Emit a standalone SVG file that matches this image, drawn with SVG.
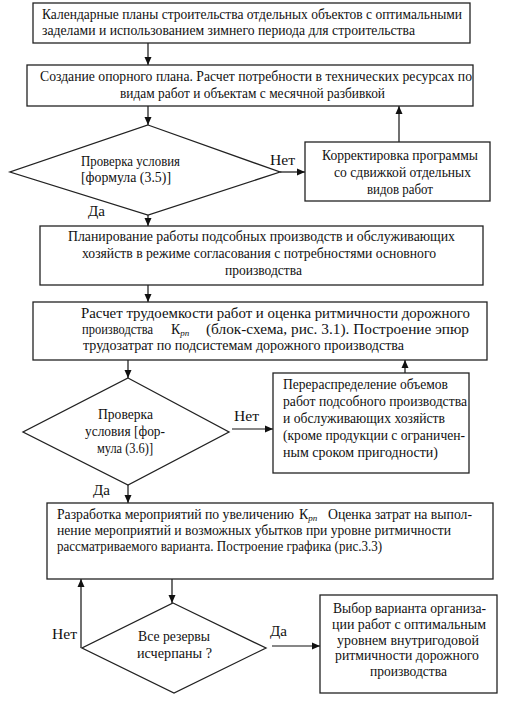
<svg xmlns="http://www.w3.org/2000/svg" width="509" height="703" viewBox="0 0 509 703" font-family="'Liberation Serif', 'Times New Roman', 'DejaVu Serif', serif">
<defs>
<marker id="ah" markerWidth="8" markerHeight="8" refX="8" refY="4" orient="auto" markerUnits="userSpaceOnUse">
<path d="M0,0.5 L8,4 L0,7.5 Z" fill="#111"/>
</marker>
</defs>
<style>
.box{fill:#fff;stroke:#222;stroke-width:1.3}
.t{font-size:14px;fill:#111}
.ln{stroke:#111;stroke-width:1.2;fill:none}
.sub{font-size:9px;font-style:italic}
</style>
<rect width="509" height="703" fill="#fff"/>
<g id="connectors">
<line class="ln" x1="148" y1="43" x2="148" y2="65" marker-end="url(#ah)"/>
<line class="ln" x1="148" y1="106" x2="148" y2="125" marker-end="url(#ah)"/>
<line class="ln" x1="280" y1="172" x2="305" y2="172" marker-end="url(#ah)"/>
<line class="ln" x1="399" y1="142" x2="399" y2="106" marker-end="url(#ah)"/>
<line class="ln" x1="148" y1="215" x2="148" y2="226" marker-end="url(#ah)"/>
<line class="ln" x1="148" y1="285" x2="148" y2="302" marker-end="url(#ah)"/>
<line class="ln" x1="128" y1="360" x2="128" y2="378" marker-end="url(#ah)"/>
<line class="ln" x1="232" y1="429" x2="273" y2="429" marker-end="url(#ah)"/>
<line class="ln" x1="405" y1="373" x2="405" y2="360" marker-end="url(#ah)"/>
<line class="ln" x1="128" y1="485" x2="128" y2="503" marker-end="url(#ah)"/>
<line class="ln" x1="172" y1="579" x2="172" y2="603" marker-end="url(#ah)"/>
<line class="ln" x1="81" y1="648" x2="81" y2="579" marker-end="url(#ah)"/>
<line class="ln" x1="272" y1="646" x2="320" y2="646" marker-end="url(#ah)"/>
<text class="t" x="270" y="165" textLength="25" lengthAdjust="spacingAndGlyphs">Нет</text>
<text class="t" x="88" y="216" textLength="17" lengthAdjust="spacingAndGlyphs">Да</text>
<text class="t" x="234" y="421" textLength="25" lengthAdjust="spacingAndGlyphs">Нет</text>
<text class="t" x="93" y="495" textLength="17" lengthAdjust="spacingAndGlyphs">Да</text>
<text class="t" x="52" y="639" textLength="25" lengthAdjust="spacingAndGlyphs">Нет</text>
<text class="t" x="270" y="636" textLength="17" lengthAdjust="spacingAndGlyphs">Да</text>
</g>
<g id="n1">
<rect class="box" x="33" y="3" width="437" height="40"/>
<text class="t" x="42" y="19" textLength="420" lengthAdjust="spacingAndGlyphs">Календарные планы строительства отдельных объектов с оптимальными</text>
<text class="t" x="42" y="35" textLength="373" lengthAdjust="spacingAndGlyphs">заделами и использованием зимнего периода для строительства</text>
</g>
<g id="n2">
<rect class="box" x="27" y="65" width="446" height="41"/>
<text class="t" x="40" y="81" textLength="432" lengthAdjust="spacingAndGlyphs">Создание опорного плана. Расчет потребности в технических ресурсах по</text>
<text class="t" x="120" y="98" textLength="265" lengthAdjust="spacingAndGlyphs">видам работ и объектам с месячной разбивкой</text>
</g>
<g id="d1">
<polygon class="box" points="148,125 280,172 148,215 10,172"/>
<text class="t" x="81" y="166" textLength="99" lengthAdjust="spacingAndGlyphs">Проверка условия</text>
<text class="t" x="81" y="182" textLength="90" lengthAdjust="spacingAndGlyphs">[формула  (3.5)]</text>
</g>
<g id="n3">
<rect class="box" x="305" y="142" width="185" height="59"/>
<text class="t" x="322" y="160" textLength="156" lengthAdjust="spacingAndGlyphs">Корректировка программы</text>
<text class="t" x="334" y="177" textLength="137" lengthAdjust="spacingAndGlyphs">со сдвижкой отдельных</text>
<text class="t" x="367" y="194" textLength="66" lengthAdjust="spacingAndGlyphs">видов работ</text>
</g>
<g id="n4">
<rect class="box" x="40" y="226" width="443" height="59"/>
<text class="t" x="68" y="241" textLength="387" lengthAdjust="spacingAndGlyphs">Планирование работы подсобных производств и обслуживающих</text>
<text class="t" x="82" y="258" textLength="354" lengthAdjust="spacingAndGlyphs">хозяйств в режиме согласования с потребностями основного</text>
<text class="t" x="225" y="275" textLength="77" lengthAdjust="spacingAndGlyphs">производства</text>
</g>
<g id="n5">
<rect class="box" x="33" y="302" width="454" height="58"/>
<text class="t" x="81" y="318" textLength="389" lengthAdjust="spacingAndGlyphs">Расчет трудоемкости работ и оценка ритмичности дорожного</text>
<text class="t" x="82" y="334" textLength="71" lengthAdjust="spacingAndGlyphs">производства</text>
<text class="t" x="171" y="334">К<tspan class="sub" dy="2">рп</tspan></text>
<text class="t" x="206" y="334" textLength="263" lengthAdjust="spacingAndGlyphs">(блок-схема,   рис.   3.1).   Построение     эпюр</text>
<text class="t" x="83" y="350" textLength="321" lengthAdjust="spacingAndGlyphs">трудозатрат по  подсистемам дорожного производства</text>
</g>
<g id="d2">
<polygon class="box" points="128,378 229,432 128,485 23,432"/>
<text class="t" x="98" y="419" textLength="55" lengthAdjust="spacingAndGlyphs">Проверка</text>
<text class="t" x="85" y="436" textLength="80" lengthAdjust="spacingAndGlyphs">условия [фор-</text>
<text class="t" x="97" y="453" textLength="56" lengthAdjust="spacingAndGlyphs">мула (3.6)]</text>
</g>
<g id="n6">
<rect class="box" x="273" y="373" width="196" height="100"/>
<text class="t" x="283" y="389" textLength="165" lengthAdjust="spacingAndGlyphs">Перераспределение объемов</text>
<text class="t" x="283" y="406" textLength="184" lengthAdjust="spacingAndGlyphs">работ подсобного производства</text>
<text class="t" x="283" y="423" textLength="162" lengthAdjust="spacingAndGlyphs">и обслуживающих хозяйств</text>
<text class="t" x="283" y="440" textLength="182" lengthAdjust="spacingAndGlyphs">(кроме продукции с ограничен-</text>
<text class="t" x="283" y="457" textLength="155" lengthAdjust="spacingAndGlyphs">ным сроком пригодности)</text>
</g>
<g id="n7">
<rect class="box" x="47" y="503" width="446" height="76"/>
<text class="t" x="57" y="519" textLength="237" lengthAdjust="spacingAndGlyphs">Разработка мероприятий по увеличению</text>
<text class="t" x="299" y="519">К<tspan class="sub" dy="2">рп</tspan></text>
<text class="t" x="328" y="519" textLength="144" lengthAdjust="spacingAndGlyphs">Оценка затрат на выпол-</text>
<text class="t" x="57" y="535" textLength="394" lengthAdjust="spacingAndGlyphs">нение мероприятий  и возможных убытков при уровне ритмичности</text>
<text class="t" x="57" y="551" textLength="325" lengthAdjust="spacingAndGlyphs">рассматриваемого варианта. Построение графика (рис.3.3)</text>
</g>
<g id="d3">
<polygon class="box" points="173,603 266,648 174,693 82,648"/>
<text class="t" x="138" y="641" textLength="72" lengthAdjust="spacingAndGlyphs">Все резервы</text>
<text class="t" x="137" y="658" textLength="75" lengthAdjust="spacingAndGlyphs">исчерпаны ?</text>
</g>
<g id="n8">
<rect class="box" x="320" y="595" width="177" height="98"/>
<text class="t" x="333" y="613" textLength="153" lengthAdjust="spacingAndGlyphs">Выбор варианта организа-</text>
<text class="t" x="332" y="629" textLength="154" lengthAdjust="spacingAndGlyphs">ции работ с оптимальным</text>
<text class="t" x="337" y="645" textLength="142" lengthAdjust="spacingAndGlyphs">уровнем внутригодовой</text>
<text class="t" x="335" y="660" textLength="144" lengthAdjust="spacingAndGlyphs">ритмичности дорожного</text>
<text class="t" x="370" y="676" textLength="77" lengthAdjust="spacingAndGlyphs">производства</text>
</g>
</svg>
